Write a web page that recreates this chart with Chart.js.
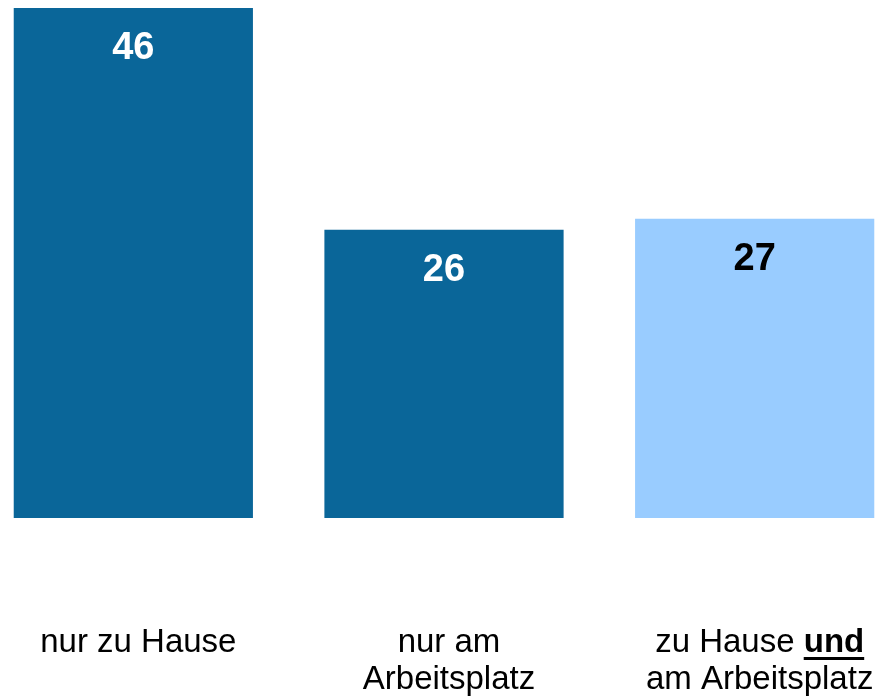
<!DOCTYPE html>
<html>
<head>
<meta charset="utf-8">
<script src="https://cdn.jsdelivr.net/npm/chart.js@4.4.1/dist/chart.umd.min.js"></script>
<style>
  html, body { margin: 0; padding: 0; background: #fff; overflow: hidden; }
  #wrap { position: absolute; left: -22px; top: 0; width: 932px; height: 699px; }
</style>
</head>
<body>
<div id="wrap"><canvas id="chart"></canvas></div>
<script>
// categories (one line per array entry) and values
const categories = [["nur zu Hause"], ["nur am", "Arbeitsplatz"], ["zu Hause und", "am Arbeitsplatz"]];
const values = [46, 26, 27];
const barColors = ["#0a6699", "#0a6699", "#99ccff"];
const valueColors = ["#ffffff", "#ffffff", "#000000"];
const emphasized = "und";

const FONT = "'Liberation Sans', Arial, sans-serif";

// value labels inside the bars
const valueLabels = {
    id: "valueLabels",
    afterDatasetsDraw(chart) {
        const ctx = chart.ctx;
        const meta = chart.getDatasetMeta(0);
        ctx.save();
        ctx.font = "bold 38px " + FONT;
        ctx.textAlign = "center";
        ctx.textBaseline = "middle";
        meta.data.forEach((bar, i) => {
            ctx.fillStyle = valueColors[i];
            ctx.fillText(String(values[i]), bar.x, bar.y + 41);
        });
        ctx.restore();
    }
};

// category labels under the bars, with the bold + underlined word
const categoryLabels = {
    id: "categoryLabels",
    afterDraw(chart) {
        const ctx = chart.ctx;
        const x = chart.scales.x;
        const bottom = chart.chartArea.bottom;
        ctx.save();
        ctx.fillStyle = "#000";
        ctx.textBaseline = "alphabetic";
        categories.forEach((lines, i) => {
            const cx = x.getPixelForValue(i) + 5;
            lines.forEach((line, j) => {
                const y = bottom + 134 + j * 37;
                const words = line.split(" ");
                if (words[words.length - 1] === emphasized) {
                    const head = words.slice(0, -1).join(" ") + " ";
                    ctx.font = "33px " + FONT;
                    const w1 = ctx.measureText(head).width;
                    ctx.font = "bold 33px " + FONT;
                    const w2 = ctx.measureText(emphasized).width;
                    const start = cx - (w1 + w2) / 2;
                    ctx.textAlign = "left";
                    ctx.font = "33px " + FONT;
                    ctx.fillText(head, start, y);
                    ctx.font = "bold 33px " + FONT;
                    ctx.fillText(emphasized, start + w1, y);
                    ctx.fillRect(start + w1, y + 5, w2, 3);
                } else {
                    ctx.textAlign = "center";
                    ctx.font = "33px " + FONT;
                    ctx.fillText(line, cx, y);
                }
            });
        });
        ctx.restore();
    }
};

new Chart(document.getElementById("chart").getContext("2d"), {
    type: "bar",
    data: {
        labels: categories.map(l => l.join(" ")),
        datasets: [{
            data: values,
            backgroundColor: barColors,
            borderWidth: 0,
            categoryPercentage: 1,
            barPercentage: 0.77
        }]
    },
    options: {
        responsive: true,
        maintainAspectRatio: false,
        animation: false,
        layout: { padding: { top: 8, bottom: 181, left: 0, right: 0 } },
        plugins: { legend: { display: false }, tooltip: { enabled: false } },
        scales: {
            x: { display: false },
            y: { display: false, min: 0, max: 46 }
        }
    },
    plugins: [valueLabels, categoryLabels]
});
</script>
</body>
</html>
